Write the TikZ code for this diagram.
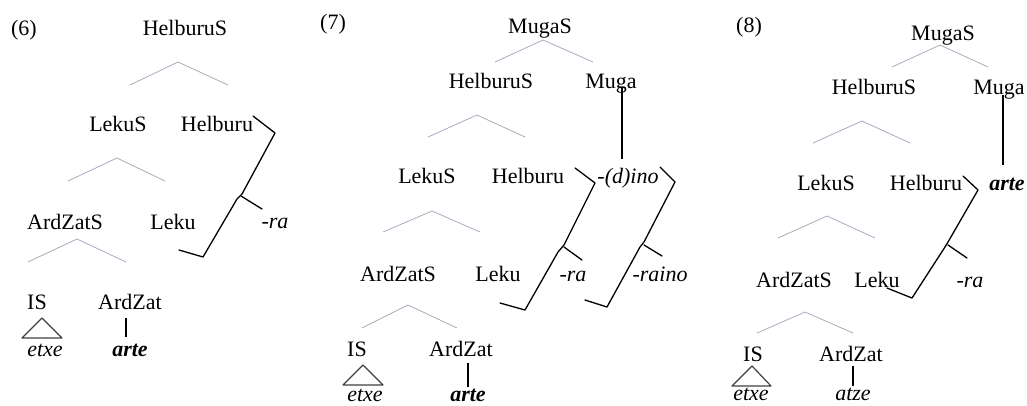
\documentclass[tikz,border=0pt]{standalone}
\usepackage{fontspec}
\setmainfont{Liberation Serif}
\begin{document}
\begin{tikzpicture}[x=1pt,y=-1pt,
  lbl/.style={anchor=base,inner sep=0pt,font=\fontsize{22}{26}\selectfont},
  morph/.style={lbl,font=\fontsize{22}{26}\selectfont\itshape},
  lex/.style={lbl,font=\fontsize{22}{26}\selectfont\itshape\bfseries},
  branch/.style={draw={rgb,255:red,165;green,172;blue,188},line width=0.8pt},
  brace/.style={draw=black,line width=1.3pt,line join=round,line cap=round},
  stem/.style={draw=black,line width=1.2pt},
  roof/.style={draw=black!75,line width=1.2pt,line join=round}]
\useasboundingbox (0,0) rectangle (1027,405);
\clip (0,0) rectangle (1027,405);

% ---------------- (6) ----------------
\node[lbl] (n6) at (24,35) {(6)};
\node[lbl] (hs6) at (185,35) {HelburuS};
\node[lbl] (ls6) at (118,131) {LekuS};
\node[lbl] (hb6) at (217,131) {Helburu};
\node[lbl] (as6) at (65,229) {ArdZatS};
\node[lbl] (lk6) at (173,229) {Leku};
\node[morph] (ra6) at (275,228) {-ra};
\node[lbl] (is6) at (37,309) {IS};
\node[lbl] (az6) at (130,309) {ArdZat};
\node[morph] (et6) at (45,356) {etxe};
\node[lex] (ar6) at (130,356) {arte};

\coordinate (p6a) at (178,62);  \coordinate (p6b) at (130,85);  \coordinate (p6c) at (228,85);
\coordinate (q6a) at (117,158); \coordinate (q6b) at (68,181);  \coordinate (q6c) at (165,181);
\coordinate (r6a) at (77,239);  \coordinate (r6b) at (28,262);  \coordinate (r6c) at (126,262);
\draw[branch] (p6b) -- (p6a) -- (p6c);
\draw[branch] (q6b) -- (q6a) -- (q6c);
\draw[branch] (r6b) -- (r6a) -- (r6c);

\draw[roof] (42,318) -- (22,338) -- (62,338) -- cycle;
\draw[stem] (126,318) -- (126,337);

\draw[brace] (253,116) -- (275,133) -- (242,194) -- (237,199) -- (203,257) -- (179,250);
\draw[brace] (241,196) -- (262,209);

% ---------------- (7) ----------------
\node[lbl] (n7) at (333,29) {(7)};
\node[lbl] (ms7) at (540,33) {MugaS};
\node[lbl] (hs7) at (491,88) {HelburuS};
\node[lbl] (mg7) at (611,88) {Muga};
\node[lbl] (ls7) at (427,183) {LekuS};
\node[lbl] (hb7) at (528,183) {Helburu};
\node[morph] (di7) at (628,183) {-(d)ino};
\node[lbl] (as7) at (398,281) {ArdZatS};
\node[lbl] (lk7) at (498,281) {Leku};
\node[morph] (ra7) at (573,281) {-ra};
\node[morph] (rn7) at (660,281) {-raino};
\node[lbl] (is7) at (357,356) {IS};
\node[lbl] (az7) at (461,356) {ArdZat};
\node[morph] (et7) at (365,401) {etxe};
\node[lex] (ar7) at (468,401) {arte};

\coordinate (p7a) at (543,40);  \coordinate (p7b) at (495,62);  \coordinate (p7c) at (593,62);
\coordinate (q7a) at (477,115); \coordinate (q7b) at (428,137); \coordinate (q7c) at (525,137);
\coordinate (r7a) at (432,211); \coordinate (r7b) at (383,232); \coordinate (r7c) at (480,232);
\coordinate (s7a) at (408,305); \coordinate (s7b) at (362,328); \coordinate (s7c) at (457,328);
\draw[branch] (p7b) -- (p7a) -- (p7c);
\draw[branch] (q7b) -- (q7a) -- (q7c);
\draw[branch] (r7b) -- (r7a) -- (r7c);
\draw[branch] (s7b) -- (s7a) -- (s7c);

\draw[stem] (622,88) -- (622,159);
\draw[roof] (363,365) -- (343,385) -- (383,385) -- cycle;
\draw[stem] (468,363) -- (468,387);

\draw[brace] (575,168) -- (595,183) -- (564,245) -- (558,252) -- (525,310) -- (500,303);
\draw[brace] (564,247) -- (582,260);
\draw[brace] (660,167) -- (675,182) -- (644,242) -- (640,247) -- (607,307) -- (585,300);
\draw[brace] (644,245) -- (662,256);

% ---------------- (8) ----------------
\node[lbl] (n8) at (749,32) {(8)};
\node[lbl] (ms8) at (943,40) {MugaS};
\node[lbl] (hs8) at (874,94) {HelburuS};
\node[lbl] (mg8) at (999,94) {Muga};
\node[lbl] (ls8) at (826,190) {LekuS};
\node[lbl] (hb8) at (926,190) {Helburu};
\node[lex] (ar8) at (1007,190) {arte};
\node[lbl] (as8) at (794,287) {ArdZatS};
\node[lbl] (lk8) at (877,287) {Leku};
\node[morph] (ra8) at (970,287) {-ra};
\node[lbl] (is8) at (753,361) {IS};
\node[lbl] (az8) at (851,361) {ArdZat};
\node[morph] (et8) at (751,400) {etxe};
\node[morph] (at8) at (853,400) {atze};

\coordinate (p8a) at (940,45);  \coordinate (p8b) at (892,67);  \coordinate (p8c) at (988,67);
\coordinate (q8a) at (862,121); \coordinate (q8b) at (813,143); \coordinate (q8c) at (910,143);
\coordinate (r8a) at (827,216); \coordinate (r8b) at (778,238); \coordinate (r8c) at (875,238);
\coordinate (s8a) at (805,312); \coordinate (s8b) at (757,333); \coordinate (s8c) at (853,333);
\draw[branch] (p8b) -- (p8a) -- (p8c);
\draw[branch] (q8b) -- (q8a) -- (q8c);
\draw[branch] (r8b) -- (r8a) -- (r8c);
\draw[branch] (s8b) -- (s8a) -- (s8c);

\draw[stem] (1003,95) -- (1003,165);
\draw[roof] (752,366) -- (732,386) -- (771,386) -- cycle;
\draw[stem] (853,366) -- (853,386);

\draw[brace] (963,176) -- (978,190) -- (948,242) -- (945,247) -- (912,298) -- (887,288);
\draw[brace] (948,245) -- (967,258);
\end{tikzpicture}
\end{document}
